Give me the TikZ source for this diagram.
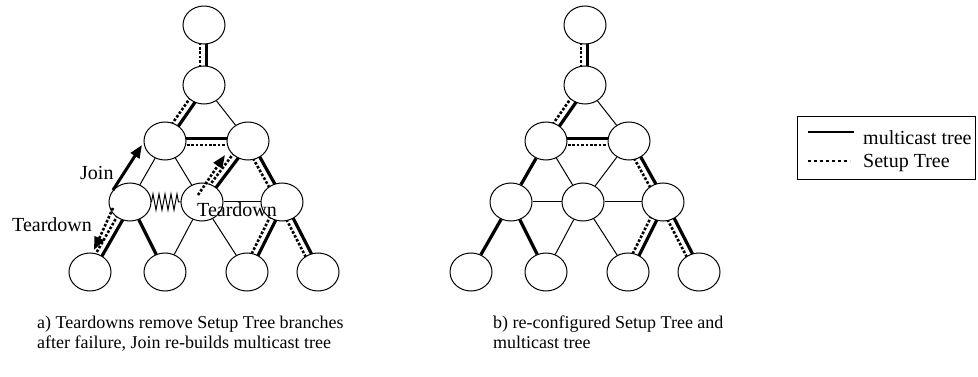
\documentclass[tikz,border=0pt]{standalone}
\usepackage{fontspec}
\setmainfont{Liberation Serif}
\usetikzlibrary{shapes.geometric,calc,arrows.meta,backgrounds,decorations.pathmorphing}

% thick multicast-tree edge with the dotted setup-tree edge beside it
\newcommand\treepair[2]{%
  \draw[mtree] ($(#1)!2.5pt!90:(#2)$) -- ($(#2)!2.5pt!-90:(#1)$);
  \draw[stree] ($(#1)!4pt!-90:(#2)$) -- ($(#2)!4pt!90:(#1)$);
}

% the eleven nodes of one network, prefix #1, shifted right by #2
\newcommand\netnodes[2]{%
  \node[nd] (#1t)  at (#2+204,25)  {};
  \node[nd] (#1s)  at (#2+204,85)  {};
  \node[nd] (#1l3) at (#2+165,141) {};
  \node[nd] (#1r3) at (#2+248,141) {};
  \node[nd] (#1l4) at (#2+130,202) {};
  \node[nd] (#1m4) at (#2+202,202) {};
  \node[nd] (#1r4) at (#2+282,202) {};
  \node[nd] (#1p)  at (#2+90,272)  {};
  \node[nd] (#1q)  at (#2+165,272) {};
  \node[nd] (#1u)  at (#2+247,272) {};
  \node[nd] (#1v)  at (#2+318,272) {};
}

\begin{document}
\begin{tikzpicture}[x=1pt,y=-1pt,
  nd/.style={ellipse, draw, line width=1pt, fill=white,
             minimum width=42pt, minimum height=38pt, inner sep=0pt},
  link/.style={line width=1pt},
  mtree/.style={line width=3.2pt},
  stree/.style={line width=2.6pt, dash pattern=on 2.6pt off 1.8pt},
  lbl/.style={font=\fontsize{20}{20}\selectfont, inner sep=0pt, anchor=base west},
  captext/.style={font=\fontsize{18}{18}\selectfont, inner sep=0pt, anchor=base west},
  tip/.style={-{Triangle[length=13pt,width=10pt]}}]

\useasboundingbox (0,0) rectangle (978,377);

% ---------- left network: failure and repair ----------
\netnodes{a}{0}
\begin{pgfonlayer}{background}
  \fill[white] (0,0) rectangle (978,377);
  \draw[link] (as) -- (ar3);
  \draw[link] (al3) -- (al4);
  \draw[link] (al3) -- (am4);
  \draw[link] (am4) -- (ar4);
  \draw[link] (am4) -- (aq);
  \draw[link] (am4) -- (au);
  \treepair{at}{as}
  \treepair{as}{al3}
  \treepair{al3}{ar3}
  \treepair{ar3}{ar4}
  \treepair{ar4}{au}
  \treepair{ar4}{av}
  \treepair{ar3}{am4}
  \treepair{al4}{ap}
  \draw[mtree] (al4) -- (aq);
\end{pgfonlayer}
% broken link
\draw[line width=1pt, decorate,
      decoration={zigzag, segment length=6pt, amplitude=8pt}] (al4) -- (am4);

% messages
\draw[line width=3pt, tip] ($(al4)+(-17,-12)$) -- ($(al3)+(-23,4)$);
\draw[stree, tip] ($(al4)+(-17,6)$) -- ($(ap)+(4,-22)$);
\draw[stree, tip] ($(am4)+(-4,-7)$) -- ($(ar3)+(-23,14)$);
\node[lbl] (join) at (80,179) {Join};
\node[lbl] (tda) at (12,231) {Teardown};
\node[lbl] (tdb) at (197,217) {Teardown};

% ---------- right network: re-configured trees ----------
\netnodes{b}{381}
\begin{pgfonlayer}{background}
  \draw[link] (bs) -- (br3);
  \draw[link] (bl3) -- (bm4);
  \draw[link] (br3) -- (bm4);
  \draw[link] (bl4) -- (bm4);
  \draw[link] (bm4) -- (br4);
  \draw[link] (bm4) -- (bq);
  \draw[link] (bm4) -- (bu);
  \treepair{bt}{bs}
  \treepair{bs}{bl3}
  \treepair{bl3}{br3}
  \treepair{br3}{br4}
  \treepair{br4}{bu}
  \treepair{br4}{bv}
  \draw[mtree] (bl3) -- (bl4);
  \draw[mtree] (bl4) -- (bp);
  \draw[mtree] (bl4) -- (bq);
\end{pgfonlayer}

% ---------- captions ----------
\node[captext] (capa1) at (37,328) {a) Teardowns remove Setup Tree branches};
\node[captext] (capa2) at (37,348) {after failure, Join re-builds multicast tree};
\node[captext] (capb1) at (493,328) {b) re-configured Setup Tree and};
\node[captext] (capb2) at (493,348) {multicast tree};

% ---------- legend ----------
\node[draw, line width=1.4pt, minimum width=178pt, minimum height=63pt,
      inner sep=0pt, anchor=north west] (legend) at (797,116) {};
\coordinate (ma) at (808,132);
\coordinate (mb) at (854,132);
\coordinate (sa) at (808,161);
\coordinate (sb) at (850,161);
\draw[line width=2.5pt] (ma) -- (mb);
\draw[line width=2pt, dash pattern=on 2.7pt off 3.3pt] (sa) -- (sb);
\node[lbl] (legm) at (863,145) {multicast tree};
\node[lbl] (legs) at (863,168) {Setup Tree};
\end{tikzpicture}
\end{document}
